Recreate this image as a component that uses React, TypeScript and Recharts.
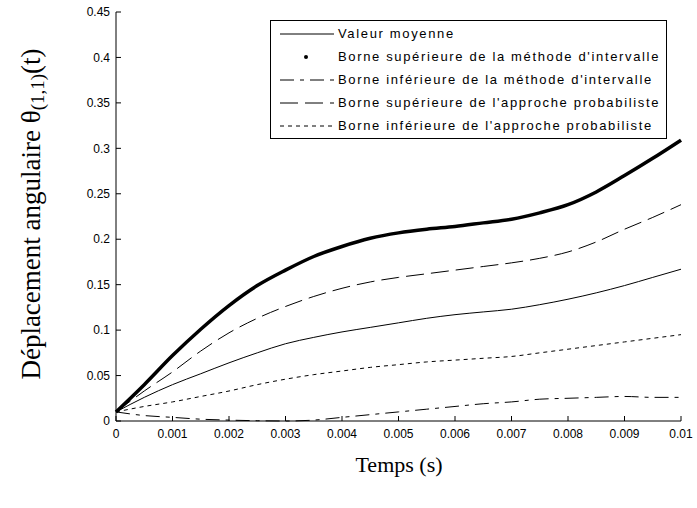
import { LineChart, Line, XAxis, YAxis } from 'recharts';

// Temps (s)
const times = [
  0, 0.0005, 0.001, 0.0015, 0.002, 0.0025, 0.003, 0.0035, 0.004, 0.0045, 0.005,
  0.0055, 0.006, 0.0065, 0.007, 0.0075, 0.008, 0.0085, 0.009, 0.0095, 0.01,
];

// Valeur moyenne
const meanValue = [
  0.01, 0.026, 0.04, 0.052, 0.064, 0.075, 0.085, 0.092, 0.098, 0.103, 0.108,
  0.113, 0.117, 0.12, 0.123, 0.128, 0.134, 0.141, 0.149, 0.158, 0.167,
];

// Borne supérieure de la méthode d'intervalle
const upperInterval = [
  0.01, 0.04, 0.072, 0.101, 0.127, 0.149, 0.166, 0.181, 0.192, 0.201, 0.207,
  0.211, 0.214, 0.218, 0.222, 0.229, 0.238, 0.252, 0.27, 0.289, 0.309,
];

// Borne inférieure de la méthode d'intervalle
const lowerInterval = [
  0.01, 0.006, 0.004, 0.002, 0.001, 0.0003, 0, 0.001, 0.004, 0.007, 0.01,
  0.013, 0.016, 0.019, 0.021, 0.024, 0.025, 0.026, 0.027, 0.026, 0.026,
];

// Borne supérieure de l'approche probabiliste
const upperProba = [
  0.01, 0.033, 0.054, 0.077, 0.097, 0.113, 0.126, 0.137, 0.146, 0.153, 0.158,
  0.162, 0.166, 0.17, 0.174, 0.179, 0.186, 0.197, 0.211, 0.224, 0.238,
];

// Borne inférieure de l'approche probabiliste
const lowerProba = [
  0.01, 0.016, 0.021, 0.027, 0.033, 0.04, 0.046, 0.051, 0.055, 0.059, 0.062,
  0.065, 0.067, 0.069, 0.071, 0.075, 0.079, 0.083, 0.087, 0.091, 0.095,
];

const xTicks = [0, 0.001, 0.002, 0.003, 0.004, 0.005, 0.006, 0.007, 0.008, 0.009, 0.01];
const yTicks = [0, 0.05, 0.1, 0.15, 0.2, 0.25, 0.3, 0.35, 0.4, 0.45];

const data = times.map((t, i) => ({
  t,
  mean: meanValue[i],
  supInt: upperInterval[i],
  infInt: lowerInterval[i],
  supProb: upperProba[i],
  infProb: lowerProba[i],
}));

const series = [
  { key: 'mean', name: 'Valeur moyenne', width: 1, dash: undefined as string | undefined, dot: false },
  { key: 'supInt', name: "Borne supérieure de la méthode d'intervalle", width: 3.5, dash: undefined, dot: true },
  { key: 'infInt', name: "Borne inférieure de la méthode d'intervalle", width: 1, dash: '14 6 4 6', dot: false },
  { key: 'supProb', name: "Borne supérieure de l'approche probabiliste", width: 1, dash: '18 7', dot: false },
  { key: 'infProb', name: "Borne inférieure de l'approche probabiliste", width: 1, dash: '4 4', dot: false },
];

const tickFont = { fontFamily: 'Liberation Sans, Arial, sans-serif', fontSize: 12, fill: '#000' };
const serif = 'Liberation Serif, Times New Roman, serif';

function LegendBox() {
  return (
    <div
      style={{
        position: 'absolute',
        left: 270,
        top: 20,
        border: '1px solid #000',
        background: '#fff',
        padding: '1px 6px 1px 9px',
        fontFamily: 'Liberation Sans, Arial, sans-serif',
        fontSize: 13,
        letterSpacing: 1.65,
        color: '#000',
        whiteSpace: 'nowrap',
      }}
    >
      {series.map((s) => (
        <div key={s.key} style={{ display: 'flex', alignItems: 'center', height: 23 }}>
          <svg width={56} height={10} style={{ marginRight: 2 }}>
            {s.dot ? (
              <circle cx={26} cy={5} r={2} fill="#000" />
            ) : (
              <line x1={0} y1={5} x2={54} y2={5} stroke="#000" strokeWidth={1} strokeDasharray={s.dash} />
            )}
          </svg>
          <span>{s.name}</span>
        </div>
      ))}
    </div>
  );
}

export default function App() {
  return (
    <div style={{ position: 'absolute', left: 0, top: 0, width: 697, height: 508 }}>
      <style>{'body{margin:0;background:#fff}'}</style>
      <LineChart width={697} height={508} data={data} margin={{ top: 12, right: 16, bottom: 0, left: 0 }}>
        <XAxis
          dataKey="t"
          type="number"
          domain={[0, 0.01]}
          ticks={xTicks}
          tickFormatter={(v: number) => String(v)}
          height={87}
          tickSize={-5}
          tickMargin={13}
          tick={tickFont}
          stroke="#000"
          interval={0}
          label={{
            content: () => (
              <text x={399} y={472} textAnchor="middle" fontFamily={serif} fontSize={22} fill="#000">
                Temps (s)
              </text>
            ),
          }}
        />
        <XAxis
          xAxisId="top"
          dataKey="t"
          type="number"
          orientation="top"
          domain={[0, 0.01]}
          ticks={xTicks}
          height={0}
          tickSize={-5}
          tick={false}
          stroke="#000"
        />
        <YAxis
          type="number"
          domain={[0, 0.45]}
          ticks={yTicks}
          tickFormatter={(v: number) => String(v)}
          width={116}
          tickSize={-5}
          tickMargin={11}
          tick={tickFont}
          stroke="#000"
          interval={0}
          label={{
            content: () => (
              <text
                x={31}
                y={214}
                transform="rotate(-90, 31, 214)"
                textAnchor="middle"
                dominantBaseline="central"
                fontFamily={serif}
                fontSize={27}
                fill="#000"
              >
                Déplacement angulaire θ
                <tspan fontSize={19} dy={6}>(1,1)</tspan>
                <tspan dy={-6}>(t)</tspan>
              </text>
            ),
          }}
        />
        <YAxis
          yAxisId="right"
          type="number"
          orientation="right"
          domain={[0, 0.45]}
          ticks={yTicks}
          width={0}
          tickSize={-5}
          tick={false}
          stroke="#000"
        />
        {series.map((s) => (
          <Line
            key={s.key}
            dataKey={s.key}
            name={s.name}
            type="monotone"
            stroke="#000"
            strokeWidth={s.width}
            strokeDasharray={s.dash}
            dot={false}
            isAnimationActive={false}
          />
        ))}
      </LineChart>
      <LegendBox />
    </div>
  );
}
